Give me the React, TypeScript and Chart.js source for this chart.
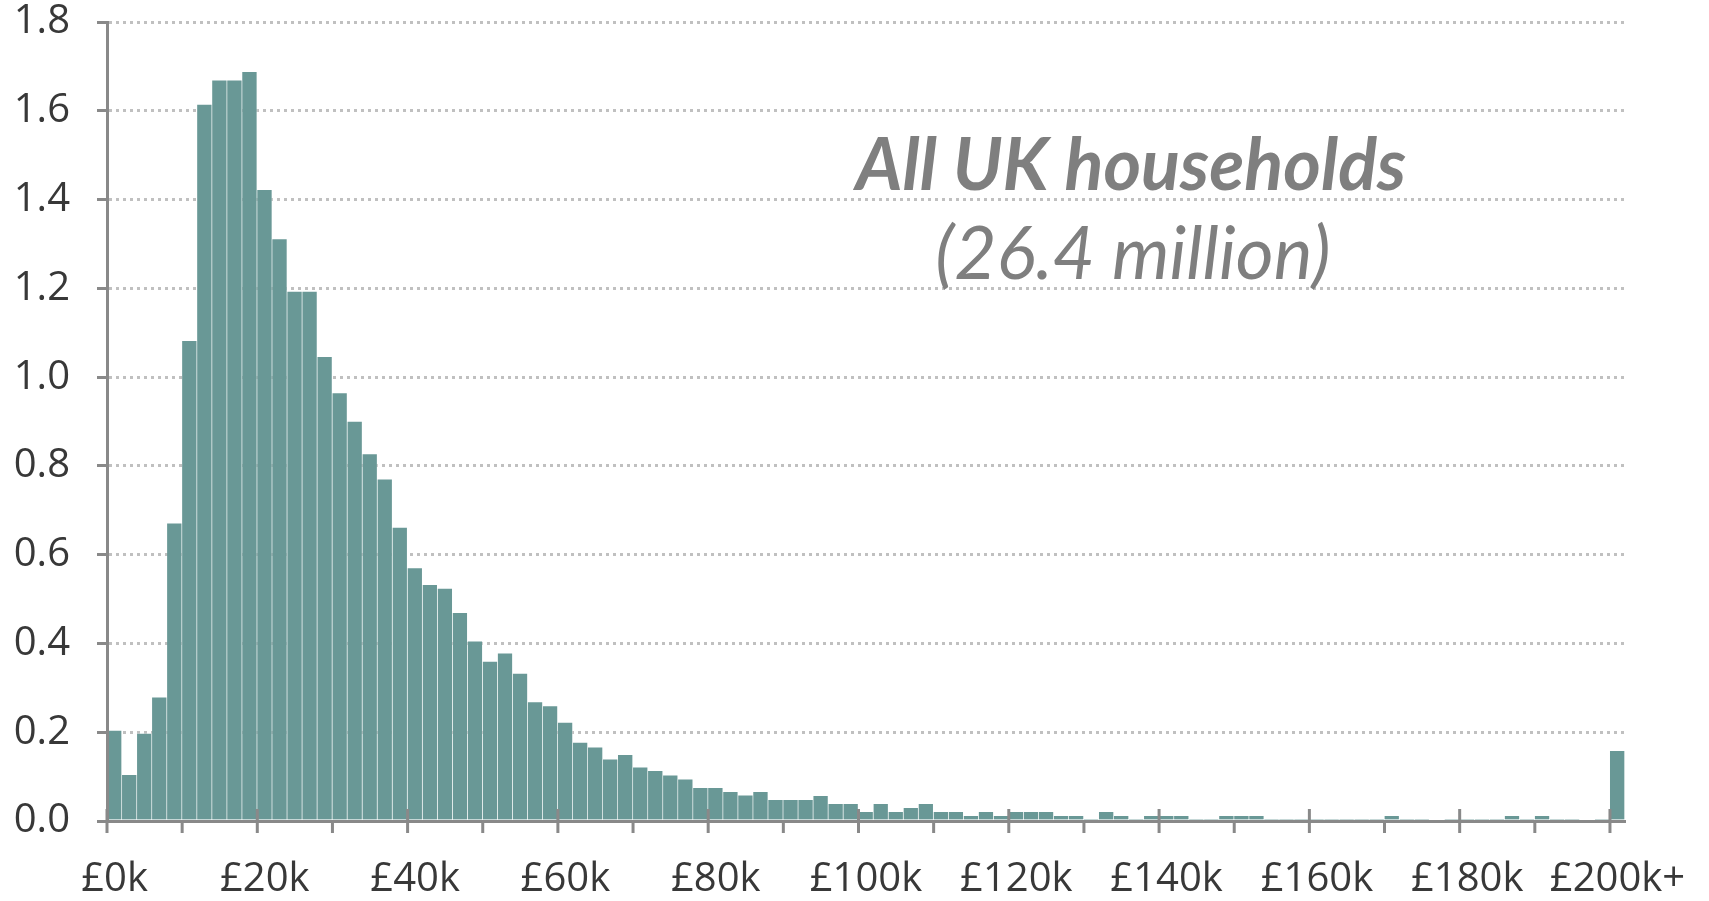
import React, { useEffect, useRef } from 'react';
import { Chart, registerables } from 'chart.js';

Chart.register(...registerables);

// Income bins (lower bound, £k); last bin is £200k and over
const binStartsK = [
  0, 2, 4, 6, 8, 10, 12, 14, 16, 18, 20, 22, 24, 26, 28, 30, 32, 34, 36, 38,
  40, 42, 44, 46, 48, 50, 52, 54, 56, 58, 60, 62, 64, 66, 68, 70, 72, 74, 76, 78,
  80, 82, 84, 86, 88, 90, 92, 94, 96, 98, 100, 102, 104, 106, 108, 110, 112, 114, 116, 118,
  120, 122, 124, 126, 128, 130, 132, 134, 136, 138, 140, 142, 144, 146, 148, 150, 152, 154, 156, 158,
  160, 162, 164, 166, 168, 170, 172, 174, 176, 178, 180, 182, 184, 186, 188, 190, 192, 194, 196, 198,
  200,
];

// Share of households (%) in each £2k bin
const households = [
  0.205, 0.105, 0.198, 0.28, 0.672, 1.083, 1.615, 1.67, 1.67, 1.689,
  1.423, 1.312, 1.194, 1.194, 1.047, 0.965, 0.901, 0.828, 0.771, 0.662,
  0.571, 0.533, 0.525, 0.47, 0.406, 0.36, 0.379, 0.333, 0.269, 0.26,
  0.223, 0.178, 0.167, 0.14, 0.15, 0.122, 0.114, 0.104, 0.095, 0.076,
  0.076, 0.067, 0.059, 0.067, 0.049, 0.049, 0.049, 0.058, 0.04, 0.04,
  0.022, 0.04, 0.022, 0.031, 0.04, 0.022, 0.022, 0.013, 0.022, 0.013,
  0.022, 0.022, 0.022, 0.013, 0.013, 0.004, 0.022, 0.013, 0.004, 0.013,
  0.013, 0.013, 0.004, 0.004, 0.013, 0.013, 0.013, 0.004, 0.004, 0.004,
  0.004, 0.004, 0.004, 0.004, 0.004, 0.013, 0.004, 0.004, 0, 0.004,
  0.004, 0.004, 0.004, 0.013, 0.004, 0.013, 0.004, 0.004, 0, 0.004,
  0.159,
];

const xTickLabels = ['£0k', '£20k', '£40k', '£60k', '£80k', '£100k', '£120k', '£140k', '£160k', '£180k', '£200k+'];
const yMin = 0;
const yMax = 1.8;
const yStep = 0.2;

const titleLine1 = 'All UK households';
const titleLine2 = '(26.4 million)';

const BAR = '#699896';
const AXIS = '#898989';
const TEXT = '#383838';
const GRID = '#c0c0c0';
const TITLE = '#7f7f7f';

const categories = binStartsK.map((k) => (k >= 200 ? '£200k+' : `£${k}k`));

const xTickMarks = {
  id: 'xTickMarks',
  afterDraw(chart: any) {
    const xs = chart.scales.x;
    const { ctx, chartArea } = chart;
    const half = (xs.getPixelForValue(1) - xs.getPixelForValue(0)) / 2;
    ctx.save();
    ctx.strokeStyle = AXIS;
    ctx.lineWidth = 3;
    for (let i = 0; i < binStartsK.length; i += 5) {
      const px = xs.getPixelForValue(i) - half;
      const major = i % 10 === 0;
      ctx.beginPath();
      ctx.moveTo(px, chartArea.bottom - (major ? 12 : 0));
      ctx.lineTo(px, chartArea.bottom + 12);
      ctx.stroke();
    }
    ctx.restore();
  },
};

const titleText = {
  id: 'titleText',
  afterDraw(chart: any) {
    const { ctx } = chart;
    ctx.save();
    ctx.fillStyle = TITLE;
    ctx.textAlign = 'center';
    ctx.textBaseline = 'alphabetic';
    ctx.font = 'italic bold 72px Lato';
    ctx.fillText(titleLine1, 1131, 190);
    ctx.font = 'italic 73px Lato';
    ctx.fillText(titleLine2, 1133, 279);
    ctx.restore();
  },
};

export default function App() {
  const ref = useRef<HTMLCanvasElement | null>(null);

  useEffect(() => {
    if (!ref.current) return;
    const tickFont = { family: 'Open Sans', size: 40, lineHeight: 1 };
    const chart = new Chart(ref.current, {
      type: 'bar',
      data: {
        labels: categories,
        datasets: [
          {
            data: households,
            backgroundColor: BAR,
            borderColor: 'rgba(255,255,255,0.35)',
            borderWidth: { top: 1, right: 1, left: 0, bottom: 0 },
            borderSkipped: false,
            barPercentage: 1,
            categoryPercentage: 1,
          },
        ],
      },
      options: {
        responsive: false,
        animation: false,
        layout: { padding: { left: 0, right: 84, top: 22, bottom: 0 } },
        plugins: { legend: { display: false }, tooltip: { enabled: false }, title: { display: false } },
        scales: {
          x: {
            type: 'category',
            offset: true,
            grid: { display: false, drawTicks: false },
            border: { display: true, color: AXIS, width: 3, z: 1 },
            ticks: {
              autoSkip: false,
              maxRotation: 0,
              minRotation: 0,
              padding: 39,
              color: TEXT,
              font: tickFont,
              callback: (_v: any, index: number) => (index % 10 === 0 ? xTickLabels[index / 10] : ''),
            },
            afterFit: (s: any) => {
              s.height = 80;
              s.paddingLeft = 0;
              s.paddingRight = 0;
            },
          },
          y: {
            min: yMin,
            max: yMax,
            ticks: {
              stepSize: yStep,
              padding: 27,
              color: TEXT,
              font: tickFont,
              callback: (v: any) => Number(v).toFixed(1),
            },
            grid: {
              color: GRID,
              lineWidth: 3,
              drawTicks: true,
              tickLength: 10,
              tickColor: AXIS,
              tickWidth: 3,
              tickBorderDash: [],
            },
            border: { display: true, color: AXIS, width: 3, dash: [3, 4], z: 1 },
            afterFit: (s: any) => {
              s.width = 107;
              s.paddingTop = 0;
              s.paddingBottom = 0;
            },
          },
        },
      },
      plugins: [xTickMarks, titleText],
    });
    return () => chart.destroy();
  }, []);

  return (
    <div style={{ position: 'absolute', left: 0, top: 0, width: 1709, height: 901, background: '#fff' }}>
      <canvas ref={ref} width={1709} height={901} style={{ display: 'block' }} />
    </div>
  );
}
